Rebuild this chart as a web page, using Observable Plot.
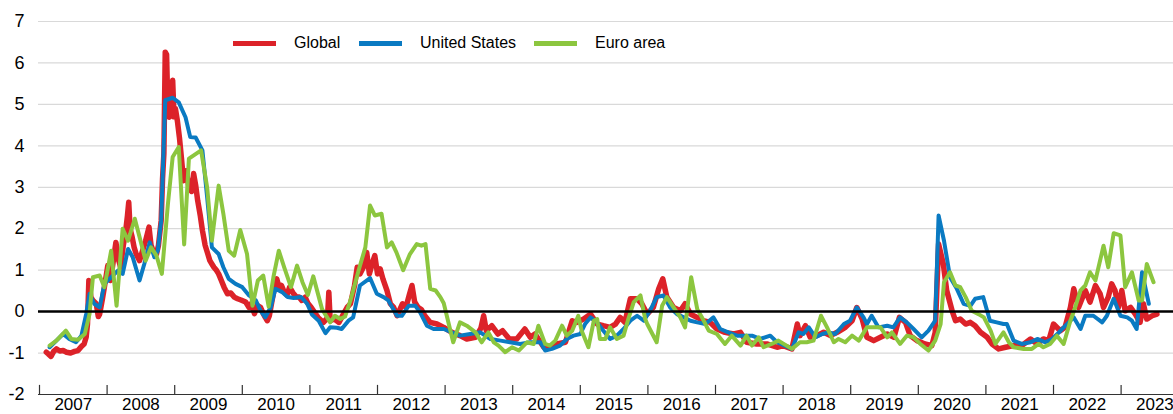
<!DOCTYPE html>
<html>
<head>
<meta charset="utf-8">
<script src="https://cdn.jsdelivr.net/npm/d3@7"></script>
<script src="https://cdn.jsdelivr.net/npm/@observablehq/plot@0.6"></script>
<style>
  html, body { margin: 0; padding: 0; background: #fff; }
  #wrap { position: relative; width: 1173px; height: 414px; font-family: "Liberation Sans", Arial, sans-serif; }
  .leg { position: absolute; top: 33px; height: 20px; display: flex; align-items: center; font-size: 16px; color: #000; }
  .leg .sw { width: 43px; height: 5px; margin-right: 18px; }
</style>
</head>
<body>
<div id="wrap"></div>
<script>
// ---- Data (decimal years) ----
const seriesNames = ["Global", "United States", "Euro area"];
const seriesColors = ["#dc2229", "#0a7ac2", "#8cc63f"];
const yearTicks = [2007,2008,2009,2010,2011,2012,2013,2014,2015,2016,2017,2018,2019,2020,2021,2022,2023];
const yTicks = [-2,-1,0,1,2,3,4,5,6,7];

const globalX = [2007.10,2007.13,2007.17,2007.21,2007.25,2007.30,2007.35,2007.40,2007.46,2007.52,2007.57,2007.62,2007.66,2007.69,2007.71,2007.73,2007.76,2007.79,2007.84,2007.87,2007.89,2007.93,2007.96,2008.01,2008.05,2008.09,2008.13,2008.17,2008.20,2008.24,2008.27,2008.30,2008.32,2008.34,2008.37,2008.40,2008.43,2008.48,2008.53,2008.57,2008.62,2008.65,2008.68,2008.73,2008.76,2008.80,2008.82,2008.84,2008.86,2008.88,2008.90,2008.92,2008.95,2008.97,2008.99,2009.01,2009.04,2009.07,2009.10,2009.13,2009.17,2009.21,2009.25,2009.28,2009.31,2009.34,2009.38,2009.41,2009.45,2009.49,2009.52,2009.55,2009.58,2009.62,2009.65,2009.69,2009.73,2009.78,2009.83,2009.88,2009.93,2009.98,2010.05,2010.10,2010.13,2010.18,2010.22,2010.27,2010.31,2010.34,2010.37,2010.40,2010.44,2010.48,2010.51,2010.55,2010.58,2010.62,2010.66,2010.70,2010.75,2010.80,2010.84,2010.88,2010.93,2010.97,2011.02,2011.06,2011.12,2011.16,2011.20,2011.26,2011.28,2011.30,2011.36,2011.43,2011.50,2011.55,2011.60,2011.66,2011.70,2011.74,2011.80,2011.84,2011.88,2011.92,2011.96,2012.00,2012.04,2012.08,2012.14,2012.19,2012.24,2012.29,2012.33,2012.37,2012.42,2012.47,2012.51,2012.55,2012.60,2012.65,2012.70,2012.78,2012.88,2012.98,2013.10,2013.22,2013.32,2013.45,2013.53,2013.57,2013.61,2013.69,2013.78,2013.85,2013.95,2014.06,2014.18,2014.26,2014.33,2014.46,2014.56,2014.65,2014.78,2014.88,2014.95,2015.05,2015.15,2015.25,2015.34,2015.44,2015.52,2015.59,2015.66,2015.74,2015.84,2015.91,2015.99,2016.08,2016.16,2016.22,2016.28,2016.38,2016.48,2016.55,2016.63,2016.73,2016.82,2016.92,2017.02,2017.14,2017.27,2017.37,2017.46,2017.61,2017.76,2017.91,2018.00,2018.13,2018.21,2018.25,2018.33,2018.40,2018.50,2018.60,2018.70,2018.80,2018.92,2019.02,2019.09,2019.17,2019.24,2019.34,2019.44,2019.54,2019.64,2019.72,2019.81,2019.88,2019.98,2020.10,2020.20,2020.25,2020.30,2020.37,2020.42,2020.50,2020.55,2020.62,2020.70,2020.77,2020.84,2020.92,2021.02,2021.09,2021.19,2021.29,2021.41,2021.53,2021.66,2021.76,2021.85,2021.93,2022.00,2022.10,2022.17,2022.25,2022.30,2022.37,2022.47,2022.54,2022.62,2022.69,2022.74,2022.81,2022.86,2022.91,2022.96,2023.01,2023.06,2023.14,2023.21,2023.28,2023.33,2023.38,2023.46,2023.53];
const globalY = [-0.98,-1.02,-1.08,-0.96,-0.90,-0.95,-0.94,-0.98,-1.00,-0.96,-0.94,-0.84,-0.78,-0.62,-0.30,0.75,0.35,0.27,0.19,-0.12,-0.06,0.30,0.59,1.11,0.75,1.20,1.67,1.25,1.07,1.60,1.88,2.30,2.64,2.00,1.80,1.55,1.39,1.23,1.50,1.71,2.04,1.60,1.47,1.39,1.60,2.20,3.20,3.81,6.26,6.20,4.80,4.69,5.20,5.58,4.70,4.90,4.60,4.20,3.70,3.16,3.40,3.00,2.90,3.33,3.05,2.68,2.30,1.96,1.60,1.39,1.23,1.15,1.07,0.99,0.91,0.75,0.59,0.43,0.45,0.35,0.31,0.28,0.23,0.10,0.19,-0.05,0.15,0.10,-0.05,-0.14,-0.22,-0.10,0.27,0.60,0.79,0.55,0.63,0.47,0.40,0.59,0.45,0.35,0.35,0.27,0.35,0.20,0.10,0.00,-0.14,-0.20,-0.26,-0.15,0.47,-0.22,-0.18,-0.26,-0.05,0.10,0.19,0.63,1.07,0.91,1.10,1.43,0.91,1.15,1.35,0.91,1.03,0.79,0.51,0.19,0.10,-0.10,0.05,0.19,0.10,0.40,0.63,0.23,0.10,0.05,-0.10,-0.26,-0.30,-0.38,-0.50,-0.58,-0.66,-0.62,-0.40,-0.10,-0.46,-0.34,-0.54,-0.46,-0.66,-0.66,-0.42,-0.62,-0.54,-0.86,-0.86,-0.78,-0.74,-0.22,-0.26,-0.18,-0.06,-0.30,-0.34,-0.38,-0.30,-0.14,-0.26,0.31,0.31,0.19,-0.06,0.10,0.55,0.79,0.35,0.10,0.02,0.19,-0.06,-0.14,-0.22,-0.26,-0.42,-0.50,-0.54,-0.50,-0.74,-0.78,-0.78,-0.86,-0.82,-0.90,-0.30,-0.58,-0.34,-0.62,-0.58,-0.50,-0.58,-0.50,-0.38,-0.22,0.10,-0.18,-0.62,-0.70,-0.62,-0.54,-0.62,-0.14,-0.26,-0.58,-0.70,-0.78,-0.82,-0.50,1.63,1.15,0.51,0.02,-0.22,-0.18,-0.30,-0.26,-0.34,-0.50,-0.62,-0.78,-0.90,-0.86,-0.82,-0.82,-0.66,-0.78,-0.66,-0.70,-0.30,-0.46,-0.38,0.10,0.55,0.10,0.51,0.23,0.63,0.43,0.10,0.35,0.67,0.51,0.10,0.51,0.02,0.10,-0.06,-0.26,0.19,-0.18,-0.10,-0.06];

const usX = [2007.15,2007.25,2007.35,2007.44,2007.54,2007.62,2007.69,2007.74,2007.81,2007.89,2007.96,2008.06,2008.16,2008.23,2008.31,2008.38,2008.48,2008.55,2008.63,2008.70,2008.75,2008.80,2008.86,2008.97,2009.06,2009.16,2009.23,2009.31,2009.41,2009.48,2009.55,2009.65,2009.72,2009.80,2009.90,2010.00,2010.10,2010.20,2010.27,2010.34,2010.42,2010.49,2010.59,2010.67,2010.76,2010.87,2010.96,2011.03,2011.13,2011.23,2011.30,2011.40,2011.47,2011.57,2011.64,2011.74,2011.89,2011.99,2012.09,2012.16,2012.29,2012.36,2012.46,2012.56,2012.63,2012.73,2012.83,2012.98,2013.10,2013.22,2013.37,2013.52,2013.67,2013.82,2013.96,2014.11,2014.26,2014.41,2014.48,2014.58,2014.70,2014.80,2014.90,2015.00,2015.07,2015.15,2015.25,2015.32,2015.44,2015.54,2015.64,2015.74,2015.84,2015.94,2016.03,2016.13,2016.23,2016.33,2016.43,2016.53,2016.63,2016.73,2016.85,2016.97,2017.07,2017.19,2017.32,2017.42,2017.54,2017.66,2017.81,2017.91,2018.13,2018.23,2018.30,2018.38,2018.48,2018.58,2018.67,2018.77,2018.90,2018.99,2019.09,2019.19,2019.24,2019.31,2019.41,2019.54,2019.63,2019.73,2019.83,2019.93,2020.05,2020.15,2020.25,2020.30,2020.38,2020.47,2020.57,2020.67,2020.77,2020.84,2020.96,2021.06,2021.16,2021.26,2021.31,2021.41,2021.53,2021.66,2021.76,2021.88,2021.98,2022.08,2022.15,2022.30,2022.40,2022.47,2022.59,2022.72,2022.79,2022.89,2022.99,2023.09,2023.16,2023.23,2023.31,2023.41];
const usY = [-0.86,-0.70,-0.54,-0.66,-0.74,-0.58,-0.06,0.43,0.19,0.10,0.67,0.83,0.99,0.91,1.51,1.31,0.75,1.15,1.67,1.31,1.47,2.20,5.10,5.16,5.05,4.69,4.21,4.20,3.89,2.76,1.55,1.39,1.07,0.79,0.67,0.59,0.39,0.27,0.02,-0.14,0.10,0.55,0.47,0.35,0.33,0.35,0.19,-0.07,-0.22,-0.52,-0.38,-0.39,-0.42,-0.22,-0.14,0.63,0.81,0.43,0.35,0.27,-0.10,-0.10,0.14,0.14,-0.02,-0.34,-0.42,-0.42,-0.50,-0.58,-0.54,-0.50,-0.66,-0.70,-0.74,-0.78,-0.74,-0.74,-0.94,-0.90,-0.82,-0.66,-0.58,-0.54,-0.30,-0.14,-0.26,-0.42,-0.66,-0.58,-0.42,-0.22,-0.10,-0.22,0.02,0.35,0.39,0.10,-0.06,-0.14,-0.22,-0.26,-0.30,-0.14,-0.42,-0.50,-0.58,-0.58,-0.58,-0.66,-0.58,-0.74,-0.90,-0.50,-0.54,-0.38,-0.62,-0.54,-0.50,-0.54,-0.30,-0.22,0.10,-0.14,-0.30,-0.10,-0.38,-0.34,-0.38,-0.14,-0.26,-0.42,-0.62,-0.46,-0.22,2.32,1.71,0.83,0.55,0.19,0.14,0.31,0.35,-0.22,-0.26,-0.30,-0.30,-0.70,-0.78,-0.74,-0.66,-0.74,-0.66,-0.50,-0.38,-0.14,-0.42,-0.10,-0.10,-0.26,-0.10,0.31,-0.10,-0.14,-0.22,-0.42,0.95,0.19];

const euroX = [2007.15,2007.25,2007.39,2007.47,2007.57,2007.67,2007.74,2007.79,2007.89,2007.96,2008.06,2008.14,2008.23,2008.31,2008.41,2008.48,2008.57,2008.65,2008.73,2008.81,2008.90,2008.97,2009.06,2009.14,2009.21,2009.39,2009.48,2009.55,2009.65,2009.72,2009.80,2009.88,2009.97,2010.07,2010.15,2010.23,2010.31,2010.39,2010.46,2010.54,2010.62,2010.72,2010.81,2010.89,2010.97,2011.05,2011.18,2011.30,2011.37,2011.45,2011.52,2011.60,2011.72,2011.82,2011.89,2011.96,2012.06,2012.14,2012.21,2012.28,2012.38,2012.48,2012.58,2012.65,2012.71,2012.78,2012.86,2012.93,2012.98,2013.12,2013.22,2013.32,2013.45,2013.54,2013.64,2013.72,2013.79,2013.89,2013.99,2014.09,2014.21,2014.31,2014.38,2014.48,2014.55,2014.63,2014.73,2014.80,2014.88,2014.97,2015.02,2015.12,2015.20,2015.25,2015.29,2015.37,2015.44,2015.54,2015.64,2015.71,2015.79,2015.89,2015.96,2015.99,2016.13,2016.21,2016.28,2016.38,2016.48,2016.55,2016.64,2016.73,2016.80,2016.90,2017.02,2017.14,2017.24,2017.37,2017.46,2017.54,2017.64,2017.71,2017.83,2017.93,2018.13,2018.25,2018.35,2018.45,2018.56,2018.65,2018.75,2018.82,2018.92,2019.02,2019.12,2019.24,2019.34,2019.44,2019.54,2019.61,2019.73,2019.83,2019.93,2020.03,2020.15,2020.25,2020.33,2020.38,2020.47,2020.55,2020.62,2020.70,2020.79,2020.89,2020.97,2021.07,2021.14,2021.26,2021.34,2021.41,2021.56,2021.68,2021.78,2021.85,2021.95,2022.05,2022.15,2022.25,2022.32,2022.40,2022.47,2022.54,2022.62,2022.74,2022.81,2022.89,2022.99,2023.06,2023.16,2023.26,2023.31,2023.38,2023.48];
const euroY = [-0.82,-0.70,-0.46,-0.66,-0.68,-0.54,-0.06,0.83,0.87,0.59,1.47,0.14,2.00,1.71,2.24,1.80,1.23,1.55,1.35,0.91,2.60,3.73,3.97,1.62,3.69,3.89,3.00,1.71,3.04,2.36,1.47,1.35,1.97,1.39,0.14,0.75,0.87,0.12,0.83,1.47,1.07,0.59,1.11,0.71,0.40,0.85,0.06,-0.26,-0.10,-0.18,-0.12,0.27,0.99,1.55,2.56,2.32,2.36,1.55,1.67,1.43,1.00,1.39,1.63,1.59,1.63,0.55,0.51,0.35,0.20,-0.74,-0.26,-0.34,-0.50,-0.74,-0.50,-0.74,-0.82,-0.98,-0.86,-0.94,-0.74,-0.78,-0.34,-0.78,-0.82,-0.70,-0.34,-0.58,-0.46,-0.10,-0.46,-0.86,-0.22,-0.18,-0.66,-0.66,-0.38,-0.66,-0.58,-0.18,0.23,0.39,-0.18,-0.30,-0.74,0.14,0.35,0.10,-0.14,-0.38,0.83,0.06,-0.14,-0.46,-0.54,-0.78,-0.58,-0.82,-0.58,-0.82,-0.62,-0.86,-0.78,-0.70,-0.90,-0.74,-0.74,-0.70,-0.10,-0.38,-0.74,-0.66,-0.74,-0.58,-0.70,-0.38,-0.38,-0.38,-0.62,-0.50,-0.78,-0.58,-0.62,-0.78,-0.94,-0.70,-0.30,0.71,0.95,0.63,0.59,0.35,0.02,-0.06,-0.14,-0.46,-0.78,-0.50,-0.74,-0.86,-0.90,-0.90,-0.78,-0.86,-0.78,-0.58,-0.78,-0.22,0.10,0.51,0.63,0.95,0.75,1.59,1.07,1.89,1.84,0.59,0.95,0.27,0.27,1.15,0.71];

// ---- Build tidy table ----
const rows = [];
[[globalX, globalY], [usX, usY], [euroX, euroY]].forEach(([xs, ys], i) => {
  xs.forEach((x, j) => rows.push({series: seriesNames[i], x, y: ys[j]}));
});

const W = 1173, H = 414;
const xEnd = 2023.775, xStart = 2006.985;
const chart = Plot.plot({
  width: W,
  height: H,
  marginTop: 21,
  marginBottom: 20,
  marginLeft: 39,
  marginRight: 0,
  style: {fontFamily: "Liberation Sans, Arial, sans-serif", fontSize: "16px", color: "#000", background: "#fff", overflow: "visible"},
  x: {domain: [2007, xEnd], label: null},
  y: {domain: [-2, 7], label: null},
  marks: [
    Plot.ruleY(yTicks.filter(d => d > -2 && d !== 0), {stroke: "#d9d9d9", strokeWidth: 1.2, x1: xStart, x2: xEnd}),
    Plot.lineY(rows.filter(d => d.series === "Global"), {x: "x", y: "y", stroke: seriesColors[0], strokeWidth: 5.5, strokeLinejoin: "round"}),
    Plot.lineY(rows.filter(d => d.series === "United States"), {x: "x", y: "y", stroke: seriesColors[1], strokeWidth: 4, strokeLinejoin: "round"}),
    Plot.lineY(rows.filter(d => d.series === "Euro area"), {x: "x", y: "y", stroke: seriesColors[2], strokeWidth: 4, strokeLinejoin: "round"}),
    Plot.ruleY([0], {stroke: "#000", strokeWidth: 2.5, x1: xStart, x2: xEnd}),
    Plot.ruleY([-2], {stroke: "#333", strokeWidth: 1.2, x1: xStart, x2: xEnd}),
    Plot.ruleX(yearTicks, {y1: -2, y2: -1.78, stroke: "#333", strokeWidth: 1.2}),
    Plot.axisY(yTicks, {tickSize: 0, tickPadding: 15, fontSize: 18, label: null, tickFormat: d => String(d)}),
    Plot.axisX(yearTicks.map(d => d + 0.5), {tickSize: 0, tickPadding: 3, fontSize: 17, label: null, tickFormat: d => String(Math.floor(d))})
  ]
});

const wrap = document.getElementById("wrap");
wrap.appendChild(chart);

// Legend (HTML overlay inside plot area)
const legendLeft = [233, 359, 534];
seriesNames.forEach((name, i) => {
  const item = document.createElement("div");
  item.className = "leg";
  item.style.left = legendLeft[i] + "px";
  const sw = document.createElement("span");
  sw.className = "sw";
  sw.style.background = seriesColors[i];
  const tx = document.createElement("span");
  tx.textContent = name;
  item.appendChild(sw);
  item.appendChild(tx);
  wrap.appendChild(item);
});
</script>
</body>
</html>
